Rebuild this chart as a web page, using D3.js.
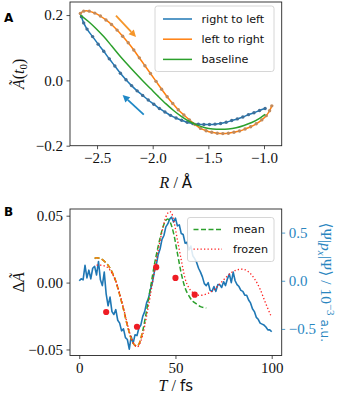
<!DOCTYPE html>
<html><head><meta charset="utf-8">
<script src="https://cdn.jsdelivr.net/npm/d3@7"></script>
<style>body{margin:0;background:#fff}</style></head>
<body><svg id="c" width="339" height="400"></svg>
<script>
// ---------- Panel A data ----------
const rtlR = [-0.99,-1.04,-1.09,-1.14,-1.19,-1.24,-1.29,-1.34,-1.39,-1.44,-1.49,-1.54,-1.59,-1.64,-1.69,-1.74,-1.79,-1.84,-1.89,-1.94,-1.99,-2.04,-2.09,-2.14,-2.19,-2.24,-2.29,-2.34,-2.39,-2.44,-2.49,-2.54,-2.59,-2.62,-2.64];
const rtlA = [-0.086,-0.092,-0.099,-0.105,-0.112,-0.118,-0.123,-0.128,-0.132,-0.134,-0.135,-0.135,-0.134,-0.132,-0.128,-0.122,-0.115,-0.107,-0.097,-0.086,-0.073,-0.060,-0.046,-0.032,-0.016,0.002,0.022,0.044,0.066,0.089,0.111,0.134,0.157,0.176,0.195];
const ltrR = [-2.65,-2.62,-2.57,-2.52,-2.47,-2.42,-2.37,-2.32,-2.27,-2.22,-2.17,-2.12,-2.07,-2.02,-1.97,-1.92,-1.87,-1.82,-1.77,-1.72,-1.67,-1.62,-1.57,-1.52,-1.47,-1.42,-1.37,-1.32,-1.27,-1.22,-1.17,-1.12,-1.07,-1.02,-0.98,-0.95,-0.93];
const ltrA = [0.205,0.212,0.212,0.206,0.197,0.185,0.171,0.154,0.135,0.115,0.093,0.069,0.045,0.021,-0.003,-0.027,-0.050,-0.071,-0.090,-0.106,-0.121,-0.135,-0.147,-0.154,-0.159,-0.162,-0.163,-0.162,-0.159,-0.155,-0.149,-0.142,-0.133,-0.121,-0.108,-0.093,-0.078];
const baseR = [-2.65,-2.58,-2.51,-2.44,-2.37,-2.30,-2.23,-2.16,-2.09,-2.02,-1.95,-1.88,-1.81,-1.74,-1.67,-1.60,-1.53,-1.46,-1.39,-1.32,-1.25,-1.18,-1.11,-1.04,-0.99];
const baseA = [0.200,0.181,0.159,0.134,0.106,0.077,0.050,0.024,-0.001,-0.025,-0.049,-0.072,-0.093,-0.111,-0.126,-0.137,-0.145,-0.149,-0.150,-0.149,-0.145,-0.138,-0.129,-0.116,-0.104];
const legendA = ["right to left","left to right","baseline"];
const xTicksA = [-2.5,-2.0,-1.5,-1.0];
const yTicksA = [-0.2,0.0,0.2];

// ---------- Panel B data ----------
const pzT = d3.range(0,101,1);
const pzV = [0.00,0.02,0.01,0.16,0.03,0.11,0.02,0.13,0.15,0.06,0.20,0.01,-0.05,0.09,-0.14,-0.26,-0.17,-0.32,-0.35,-0.30,
 -0.41,-0.44,-0.52,-0.50,-0.59,-0.61,-0.71,-0.58,-0.65,-0.56,-0.57,-0.49,-0.46,-0.37,-0.32,-0.23,-0.18,-0.09,-0.02,0.09,
 0.16,0.27,0.33,0.43,0.47,0.56,0.59,0.64,0.66,0.61,0.65,0.57,0.58,0.49,0.48,0.39,0.40,0.32,0.36,0.26,
 0.23,0.19,0.13,0.09,0.04,-0.03,-0.05,-0.02,-0.10,-0.11,-0.06,-0.11,-0.04,-0.04,-0.07,-0.01,-0.05,0.02,0.07,-0.02,
 0.09,0.00,-0.04,-0.06,-0.10,-0.11,-0.15,-0.15,-0.20,-0.23,-0.29,-0.32,-0.38,-0.40,-0.44,-0.45,-0.46,-0.48,-0.51,-0.51,-0.53];
const meanT = [8,9,11,13,15,17,19,21,23,25,27,29,30,31,33,35,37,39,41,43,45,46,47,49,51,53,55,57,59,61,63,66];
const meanV = [0.018,0.0185,0.018,0.016,0.013,0.008,0.001,-0.009,-0.020,-0.032,-0.042,-0.047,-0.0475,-0.046,-0.036,-0.021,-0.004,0.013,0.027,0.039,0.0465,0.0475,0.046,0.037,0.022,0.007,-0.004,-0.010,-0.014,-0.016,-0.018,-0.019];
const earlyT = [8,9,11,13,15,17,19,21,23,25,27,29,30,31,33];
const earlyV = [0.018,0.0185,0.018,0.016,0.013,0.008,0.001,-0.009,-0.020,-0.032,-0.042,-0.047,-0.0475,-0.046,-0.036];
const frozT = [9,11,13,15,17,19,21,23,25,27,29,30,31,33,35,37,39,41,43,45,47,48,49,51,53,55,57,59,61,63,65,67,70,73,76,79,82,85,88,91,94,97,99.5];
const frozV = [0.013,0.013,0.0125,0.011,0.007,0.001,-0.008,-0.019,-0.031,-0.041,-0.047,-0.048,-0.047,-0.039,-0.025,-0.009,0.008,0.024,0.038,0.049,0.053,0.052,0.047,0.032,0.017,0.003,-0.004,-0.0075,-0.0093,-0.0095,-0.009,-0.008,-0.0055,-0.001,0.0035,0.0075,0.0095,0.010,0.008,0.003,-0.005,-0.016,-0.0245];
const dotT = [14,30,40,50,60];
const dotV = [-0.022,-0.033,0.0115,0.0035,-0.009];
const legendB = ["mean","frozen"];
const xTicksB = [0,50,100];
const yTicksB = [-0.05,0.00,0.05];
const yTicksR = [-0.5,0.0,0.5];

// ---------- styles ----------
const C0 = "#1f77b4", C1 = "#ff7f0e", C2 = "#2ca02c";
const serif = "'Liberation Serif', 'DejaVu Serif', serif";
const sans = "'DejaVu Sans', sans-serif";
const frameCol = "#262626";
const rightCol = "#2a86bf";

const svg = d3.select("#c");

function styleAxis(g, col){
  g.select(".domain").remove();
  g.selectAll(".tick line").attr("stroke", col||frameCol).attr("stroke-width",0.8);
  g.selectAll(".tick text").attr("font-family",serif).attr("font-size",15).attr("fill",col||"#111");
}
function frame(x0,x1,y0,y1){
  svg.append("rect").attr("x",x0).attr("y",y0).attr("width",x1-x0).attr("height",y1-y0)
    .attr("fill","none").attr("stroke",frameCol).attr("stroke-width",0.9);
}

// ================= Panel A =================
const A = {l:70, r:281.7, t:2, b:145.7};
const xA = d3.scaleLinear().domain([-2.743,-0.841]).range([A.l,A.r]);
const yA = d3.scaleLinear().domain([-0.2,0.24]).range([A.b,A.t]);

const gA = svg.append("g");
const lineA = d3.line().curve(d3.curveCatmullRom.alpha(0.5));

function seriesA(R,V,col,dotCol){
  const pts = R.map((r,i)=>[xA(r),yA(V[i])]);
  gA.append("path").attr("d",lineA(pts)).attr("fill","none").attr("stroke",col).attr("stroke-width",1.5);
  if(dotCol){
    gA.selectAll(null).data(pts).enter().append("circle")
      .attr("cx",d=>d[0]).attr("cy",d=>d[1]).attr("r",1.7).attr("fill",dotCol);
  }
}
seriesA(rtlR,rtlA,C0,"#3f6f98");
seriesA(ltrR,ltrA,C1,"#c18a5c");
seriesA(baseR,baseA,C2,null);

// arrows
function arrow(g,x1,y1,x2,y2,col){
  const dx=x2-x1, dy=y2-y1, L=Math.hypot(dx,dy), ux=dx/L, uy=dy/L;
  const hl=7, hw=3.6;
  const bx=x2-ux*hl, by=y2-uy*hl;
  g.append("line").attr("x1",x1).attr("y1",y1).attr("x2",bx).attr("y2",by)
    .attr("stroke",col).attr("stroke-width",1.8);
  g.append("path").attr("d",`M${x2},${y2}L${bx-uy*hw},${by+ux*hw}L${bx+uy*hw},${by-ux*hw}Z`).attr("fill",col);
}
arrow(gA, xA(-2.33), yA(0.198), xA(-2.15), yA(0.133), "#f5962a");
arrow(gA, xA(-2.08), yA(-0.105), xA(-2.27), yA(-0.045), "#1f88c6");

frame(A.l,A.r,A.t,A.b);
const axA = svg.append("g").attr("transform",`translate(0,${A.b})`)
  .call(d3.axisBottom(xA).tickValues(xTicksA).tickFormat(d3.format(".1f")).tickSizeInner(3.5).tickPadding(3.5));
styleAxis(axA);
const ayA = svg.append("g").attr("transform",`translate(${A.l},0)`)
  .call(d3.axisLeft(yA).tickValues(yTicksA).tickFormat(d3.format(".1f")).tickSizeInner(3.5).tickPadding(3.5));
styleAxis(ayA);

// legend A
const lgA = svg.append("g");
lgA.append("rect").attr("x",155).attr("y",6).attr("width",119).attr("height",65.5).attr("rx",2.5)
  .attr("fill","#fff").attr("fill-opacity",0.85).attr("stroke","#cccccc").attr("stroke-width",0.8);
[C0,C1,C2].forEach((c,i)=>{
  const y = 19 + i*20.2;
  lgA.append("line").attr("x1",163).attr("x2",192).attr("y1",y).attr("y2",y).attr("stroke",c).attr("stroke-width",1.5);
  lgA.append("text").attr("x",201.5).attr("y",y).attr("dy","0.35em").attr("font-family",sans).attr("font-size",11.2)
    .attr("fill","#111").text(legendA[i]);
});

// labels A
svg.append("text").attr("x",4).attr("y",22).attr("font-family",sans).attr("font-weight","bold").attr("font-size",12).text("A");
const labA = svg.append("text").attr("x",(A.l+A.r)/2).attr("y",188).attr("text-anchor","middle")
  .attr("font-size",16).attr("fill","#111");
labA.append("tspan").attr("font-family",serif).attr("font-style","italic").text("R");
labA.append("tspan").attr("font-family",serif).text(" / ");
labA.append("tspan").attr("font-family",sans).attr("font-size",15).text("Å");
const ylA = svg.append("text").attr("transform",`translate(24,${(A.t+A.b)/2}) rotate(-90)`)
  .attr("text-anchor","middle").attr("font-family",serif).attr("font-size",16).attr("fill","#111");
ylA.append("tspan").attr("font-style","italic").text("Ã");
ylA.append("tspan").text("(");
ylA.append("tspan").attr("font-style","italic").text("t");
ylA.append("tspan").attr("font-size",11).attr("dy",3).text("0");
ylA.append("tspan").attr("dy",-3).text(")");

// ================= Panel B =================
const B = {l:70, r:281.7, t:209, b:355.5};
const xB = d3.scaleLinear().domain([-4.8,105.2]).range([B.l,B.r]);
const yB = d3.scaleLinear().domain([-0.0545,0.055]).range([B.b,B.t]);
const yR = d3.scaleLinear().domain([-0.776,0.745]).range([B.b,B.t]);

const gB = svg.append("g");
const lineS = d3.line().curve(d3.curveMonotoneX);
const lineL = d3.line();

gB.append("path").attr("d",lineL(pzT.map((t,i)=>[xB(t),yR(pzV[i])])))
  .attr("fill","none").attr("stroke",C0).attr("stroke-width",1.6).attr("stroke-linejoin","round");
gB.append("path").attr("d",lineS(meanT.map((t,i)=>[xB(t),yB(meanV[i])])))
  .attr("fill","none").attr("stroke",C2).attr("stroke-width",1.5).attr("stroke-dasharray","5,2.5");
gB.append("path").attr("d",lineS(earlyT.map((t,i)=>[xB(t),yB(earlyV[i])])))
  .attr("fill","none").attr("stroke",C1).attr("stroke-width",1.5).attr("stroke-dasharray","5,2.5");
gB.append("path").attr("d",lineS(frozT.map((t,i)=>[xB(t),yB(frozV[i])])))
  .attr("fill","none").attr("stroke","#ff2020").attr("stroke-width",1.3).attr("stroke-dasharray","1.3,2.2");
gB.selectAll(null).data(dotT).enter().append("circle")
  .attr("cx",d=>xB(d)).attr("cy",(d,i)=>yB(dotV[i])).attr("r",3.1).attr("fill","#ee1c24");

frame(B.l,B.r,B.t,B.b);
const axB = svg.append("g").attr("transform",`translate(0,${B.b})`)
  .call(d3.axisBottom(xB).tickValues(xTicksB).tickFormat(d3.format("d")).tickSizeInner(3.5).tickPadding(3.5));
styleAxis(axB);
const ayB = svg.append("g").attr("transform",`translate(${B.l},0)`)
  .call(d3.axisLeft(yB).tickValues(yTicksB).tickFormat(d3.format(".2f")).tickSizeInner(3.5).tickPadding(3.5));
styleAxis(ayB);
const ayR = svg.append("g").attr("transform",`translate(${B.r},0)`)
  .call(d3.axisRight(yR).tickValues(yTicksR).tickFormat(d3.format(".1f")).tickSizeInner(3.5).tickPadding(3.5));
styleAxis(ayR, rightCol);

// legend B
const lgB = svg.append("g");
lgB.append("rect").attr("x",187.5).attr("y",217.5).attr("width",86.5).attr("height",44).attr("rx",2.5)
  .attr("fill","#fff").attr("fill-opacity",0.85).attr("stroke","#cccccc").attr("stroke-width",0.8);
[[C2,"5,2.5",1.5],["#ff2020","1.3,2.2",1.3]].forEach((s,i)=>{
  const y = 229.5 + i*19.7;
  lgB.append("line").attr("x1",193.5).attr("x2",222).attr("y1",y).attr("y2",y).attr("stroke",s[0])
    .attr("stroke-width",s[2]).attr("stroke-dasharray",s[1]);
  lgB.append("text").attr("x",233).attr("y",y).attr("dy","0.35em").attr("font-family",sans).attr("font-size",11.2)
    .attr("fill","#111").text(legendB[i]);
});

// labels B
svg.append("text").attr("x",4).attr("y",216).attr("font-family",sans).attr("font-weight","bold").attr("font-size",12).text("B");
const labB = svg.append("text").attr("x",(B.l+B.r)/2).attr("y",391).attr("text-anchor","middle")
  .attr("font-size",16).attr("fill","#111");
labB.append("tspan").attr("font-family",serif).attr("font-style","italic").text("T");
labB.append("tspan").attr("font-family",serif).text(" / ");
labB.append("tspan").attr("font-family",sans).attr("font-size",15).text("fs");
const ylB = svg.append("text").attr("transform",`translate(24,${(B.t+B.b)/2}) rotate(-90)`)
  .attr("text-anchor","middle").attr("font-family",serif).attr("font-size",16).attr("fill","#111");
ylB.append("tspan").text("Δ");
ylB.append("tspan").attr("font-style","italic").text("Ã");
const ylR = svg.append("text").attr("transform",`translate(321,${(B.t+B.b)/2}) rotate(90)`)
  .attr("text-anchor","middle").attr("font-family",serif).attr("font-size",15.5).attr("fill",rightCol);
ylR.append("tspan").text("⟨Ψ|");
ylR.append("tspan").attr("font-style","italic").text("p");
ylR.append("tspan").attr("font-style","italic").attr("font-size",11).attr("dy",3).text("x");
ylR.append("tspan").attr("dy",-3).text("|Ψ⟩ / 10");
ylR.append("tspan").attr("font-size",11).attr("dy",-6).text("−3");
ylR.append("tspan").attr("dy",6).attr("font-family",sans).attr("font-size",12).text(" a.u.");
</script></body></html>
